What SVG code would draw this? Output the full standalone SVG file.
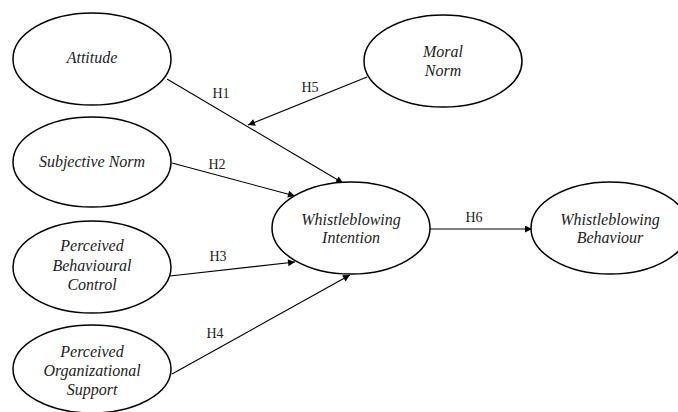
<svg xmlns="http://www.w3.org/2000/svg" width="678" height="412" viewBox="0 0 678 412">
<style>
.node ellipse{fill:#fff;stroke:#000;stroke-width:1.5}
.node text{font-family:"Liberation Serif","Times New Roman",serif;font-style:italic;font-size:16px;fill:#222;text-anchor:middle}
.conn line{stroke:#000;stroke-width:1.1}
.lbl{font-family:"Liberation Serif","Times New Roman",serif;font-size:14px;fill:#222;text-anchor:middle}
</style>
<defs>
<marker id="ah" viewBox="0 0 10 10" refX="10" refY="5" markerWidth="8" markerHeight="7" markerUnits="userSpaceOnUse" orient="auto">
<path d="M0,0 L10,5 L0,10 Z" fill="#000"/>
</marker>
</defs>
<rect width="678" height="412" fill="#fff"/>
<g id="connectors" class="conn">
<line x1="167" y1="79" x2="343" y2="183" marker-end="url(#ah)"/>
<line x1="367" y1="77" x2="248" y2="125" marker-end="url(#ah)"/>
<line x1="172" y1="163" x2="295" y2="196" marker-end="url(#ah)"/>
<line x1="170" y1="276" x2="295" y2="262" marker-end="url(#ah)"/>
<line x1="172" y1="374" x2="350" y2="275" marker-end="url(#ah)"/>
<line x1="430" y1="229" x2="532" y2="229" marker-end="url(#ah)"/>
<text class="lbl" x="221" y="98">H1</text>
<text class="lbl" x="310" y="92">H5</text>
<text class="lbl" x="217" y="169">H2</text>
<text class="lbl" x="218" y="261">H3</text>
<text class="lbl" x="215" y="338">H4</text>
<text class="lbl" x="474" y="222">H6</text>
</g>
<g id="attitude" class="node">
<ellipse cx="92" cy="59" rx="79" ry="46"/>
<text x="92" y="63">Attitude</text>
</g>
<g id="subjective-norm" class="node">
<ellipse cx="92" cy="162" rx="79" ry="45"/>
<text x="92" y="167">Subjective Norm</text>
</g>
<g id="pbc" class="node">
<ellipse cx="92" cy="267" rx="79" ry="46"/>
<text x="92" y="251">Perceived</text>
<text x="92" y="271">Behavioural</text>
<text x="92" y="290">Control</text>
</g>
<g id="pos" class="node">
<ellipse cx="92" cy="369" rx="79" ry="44"/>
<text x="92" y="357">Perceived</text>
<text x="92" y="376">Organizational</text>
<text x="92" y="395">Support</text>
</g>
<g id="moral-norm" class="node">
<ellipse cx="443" cy="61" rx="79" ry="46"/>
<text x="443" y="57">Moral</text>
<text x="443" y="76">Norm</text>
</g>
<g id="intention" class="node">
<ellipse cx="351" cy="228" rx="79" ry="46"/>
<text x="351" y="225">Whistleblowing</text>
<text x="351" y="243">Intention</text>
</g>
<g id="behaviour" class="node">
<ellipse cx="610" cy="228" rx="79" ry="46"/>
<text x="610" y="225">Whistleblowing</text>
<text x="610" y="243">Behaviour</text>
</g>
</svg>
